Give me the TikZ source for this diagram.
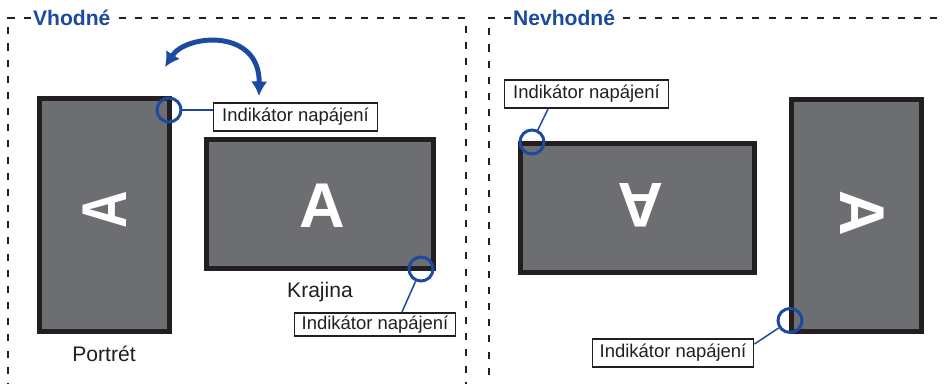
\documentclass[tikz,border=0pt]{standalone}
\usepackage{fontspec}
\setmainfont{Liberation Sans}
\usetikzlibrary{arrows.meta,calc}
\definecolor{ledblue}{HTML}{1B4A9E}
\definecolor{screengray}{HTML}{6D6E71}
\definecolor{rimblack}{HTML}{231F20}

\begin{document}
\begin{tikzpicture}[x=0.02cm,y=-0.02cm,
	screen/.style={draw=rimblack,fill=screengray,line width=2.8pt,inner sep=0pt},
	letter/.style={text=white,inner sep=0pt,font=\fontsize{36}{36}\selectfont\bfseries},
	led/.style={circle,draw=ledblue,line width=1.7pt,minimum size=0.48cm,inner sep=0pt},
	lead/.style={draw=ledblue,line width=0.85pt},
	tag/.style={draw=rimblack,fill=white,line width=1.1pt,inner sep=0pt,minimum width=3.28cm,minimum height=0.56cm,font=\fontsize{10.5}{12}\selectfont,text=rimblack},
	caption/.style={text=rimblack,font=\fontsize{12}{14}\selectfont},
	zone/.style={line width=1.1pt,dash pattern=on 4pt off 5.2pt,draw=rimblack},
	heading/.style={text=ledblue,anchor=west,inner sep=1pt,font=\fontsize{12}{14}\selectfont\bfseries}]
			\useasboundingbox (0,0) rectangle (946,384);

			\node[heading] (good) at (31,18) {Vhodné};
			\node[heading] (bad) at (511,18) {Nevhodné};
			\draw[zone] (good.west) -- (8,18) -- (8,390);
			\draw[zone] (good.east) ++(6,0) -- (466,18) -- (466,390);
			\draw[zone] (bad.west) -- (489,18) -- (489,390);
			\draw[zone] (bad.east) ++(6,0) -- (950,18);

			\node[screen,minimum width=2.6cm,minimum height=4.66cm] (portrait) at (104.5,215) {};
			\node[letter,rotate=90,xscale=0.82] (portraitA) at (105,210) {A};
			\node[screen,minimum width=4.54cm,minimum height=2.58cm] (landscape) at (320,204) {};
			\node[letter] (landscapeA) at (322,206) {A};
			\node[caption] (portraitcap) at (104,354) {Portrét};
			\node[caption] (landscapecap) at (320,292) {Krajina};

			\node[screen,minimum width=4.68cm,minimum height=2.58cm] (flipped) at (637.5,208) {};
			\node[letter,rotate=180] (flippedA) at (641,205.5) {A};
			\node[screen,minimum width=2.6cm,minimum height=4.64cm] (upright) at (856.5,215.5) {};
			\node[letter,rotate=-90] (uprightA) at (862,213) {A};

			\node[led] (ledA) at (169,110) {};
			\node[led] (ledB) at (421,269) {};
			\node[led] (ledC) at (532,142) {};
			\node[led] (ledD) at (790,320.5) {};

			\node[tag] (tagA) at (295.5,117) {Indikátor napájení};
			\node[tag,minimum height=0.46cm,minimum width=3.22cm] (tagB) at (375,324.5) {Indikátor napájení};
			\node[tag] (tagC) at (586.5,94) {Indikátor napájení};
			\node[tag,minimum width=3.22cm] (tagD) at (673,353) {Indikátor napájení};

			\draw[lead] (ledA) -- (ledA -| tagA.west);
			\draw[lead] (ledB) -- ([xshift=0.54cm]tagB.north);
			\draw[lead] (ledC) -- ([xshift=-0.77cm]tagC.south);
			\draw[lead] (ledD) -- ([yshift=0.18cm]tagD.east);

			\coordinate (turnL) at (165,67);
			\coordinate (turnR) at (259,96);
			\draw[ledblue,line width=2.8pt,{Latex[length=0.29cm,width=0.33cm]}-{Latex[length=0.29cm,width=0.33cm]}] (turnL) .. controls (186,34) and (260,28) .. (turnR);
			\end{tikzpicture}
\end{document}
